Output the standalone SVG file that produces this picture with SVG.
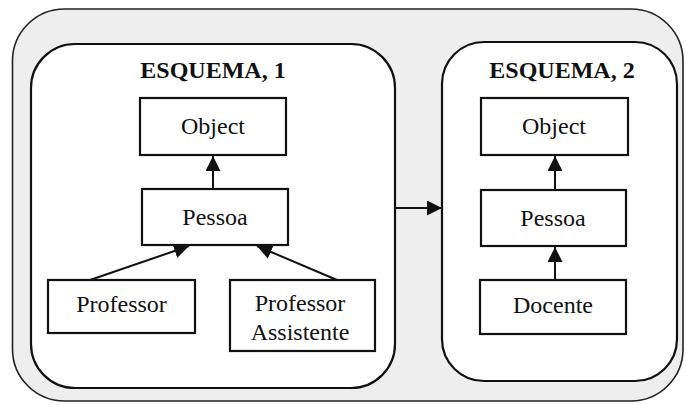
<svg xmlns="http://www.w3.org/2000/svg" width="686" height="405" viewBox="0 0 686 405">
<defs>
<style>
.outer{fill:#eeeeee;stroke:#222;stroke-width:1.6}
.panel{fill:#fff;stroke:#111;stroke-width:2.2}
.box{fill:#fff;stroke:#111;stroke-width:2.2}
.lbl{font-family:"Liberation Serif","Times New Roman",serif;font-size:24px;fill:#111;text-anchor:middle}
.ttl{font-family:"Liberation Serif","Times New Roman",serif;font-size:24px;font-weight:bold;fill:#111;text-anchor:middle}
.edge{stroke:#111;stroke-width:2;fill:none;marker-end:url(#ah)}
</style>
<marker id="ah" viewBox="0 0 14 14" refX="14" refY="7" markerWidth="15" markerHeight="15" markerUnits="userSpaceOnUse" orient="auto">
<path d="M0,0 L14,7 L0,14 Z" fill="#111"/>
</marker>
</defs>
<rect class="outer" x="12.5" y="9" width="670.5" height="392" rx="52" ry="52"/>
<g id="esquema1">
<rect class="panel" x="31" y="44" width="364" height="344" rx="44" ry="44"/>
<text class="ttl" x="213" y="78">ESQUEMA, 1</text>
</g>
<g id="esquema2">
<rect class="panel" x="442" y="42" width="235" height="339" rx="42" ry="42"/>
<text class="ttl" x="562" y="78">ESQUEMA, 2</text>
</g>
<g id="object1"><rect class="box" x="140" y="98" width="146" height="57"/><text class="lbl" x="213" y="134">Object</text></g>
<g id="pessoa1"><rect class="box" x="142" y="189" width="146" height="56"/><text class="lbl" x="215" y="225">Pessoa</text></g>
<g id="professor"><rect class="box" x="48" y="280" width="147" height="53"/><text class="lbl" x="121.5" y="312">Professor</text></g>
<g id="professorAssistente"><rect class="box" x="230" y="280" width="145" height="71"/><text class="lbl" x="300" y="311">Professor</text><text class="lbl" x="300" y="340">Assistente</text></g>
<g id="object2"><rect class="box" x="481" y="98" width="147" height="57"/><text class="lbl" x="554" y="134">Object</text></g>
<g id="pessoa2"><rect class="box" x="481" y="190" width="145" height="56"/><text class="lbl" x="553" y="226">Pessoa</text></g>
<g id="docente"><rect class="box" x="480" y="280" width="146" height="54"/><text class="lbl" x="553" y="313">Docente</text></g>
<g id="connectors">
<line class="edge" x1="213" y1="189" x2="213" y2="156"/>
<line class="edge" x1="90" y1="280" x2="189" y2="246"/>
<line class="edge" x1="337" y1="280" x2="257" y2="246"/>
<line class="edge" x1="395" y1="208" x2="442" y2="208"/>
<line class="edge" x1="555" y1="190" x2="555" y2="156"/>
<line class="edge" x1="555" y1="280" x2="555" y2="247"/>
</g>
</svg>
